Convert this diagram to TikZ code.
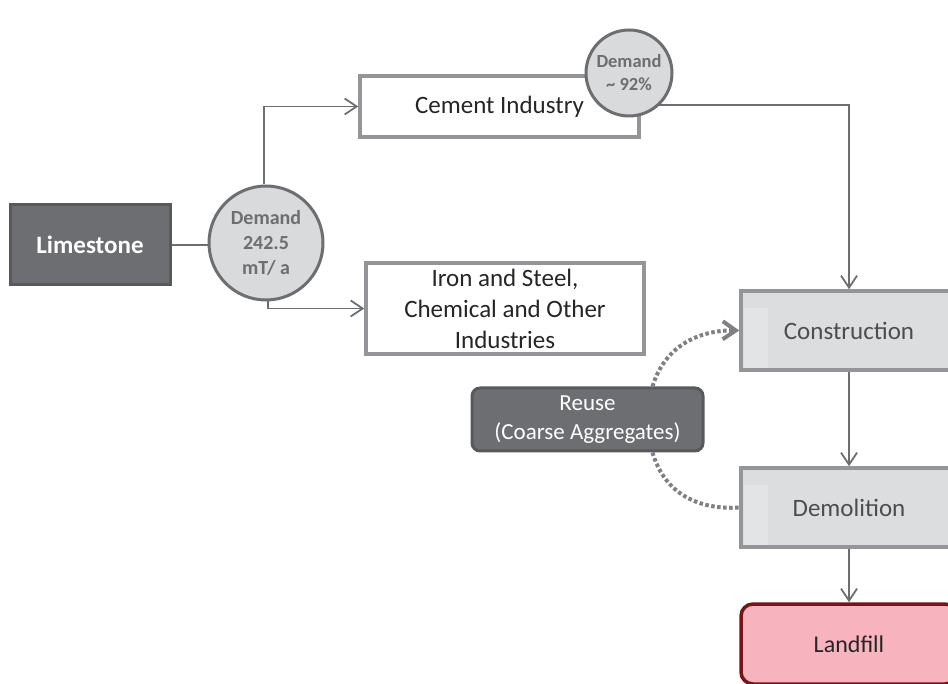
\documentclass[tikz,border=0pt]{standalone}
\usepackage{fontspec}
\setmainfont{Carlito}
\usetikzlibrary{arrows.meta}
\definecolor{dkfill}{HTML}{6D6E71}
\definecolor{dkline}{HTML}{58595B}
\definecolor{circfill}{HTML}{D9DADB}
\definecolor{circline}{HTML}{6D6E71}
\definecolor{boxline}{HTML}{939598}
\definecolor{connline}{HTML}{6D6E71}
\definecolor{lgfill}{HTML}{DCDDDE}
\definecolor{lgstrip}{HTML}{E3E4E5}
\definecolor{pinkfill}{HTML}{F7B3BE}
\definecolor{redline}{HTML}{7A1315}
\definecolor{dotline}{HTML}{7F8083}
\definecolor{txtdark}{HTML}{262626}
\definecolor{txtgray}{HTML}{4D4D4F}
\tikzset{
  darkbox/.style={draw=dkline, fill=dkfill, line width=3pt, text=white, align=center, inner sep=0pt},
  demandcirc/.style={circle, draw=circline, fill=circfill, line width=3pt, text=circline, align=center, inner sep=0pt},
  whitebox/.style={draw=boxline, fill=white, line width=3.5pt, text=txtdark, align=center, inner sep=0pt},
  graybox/.style={draw=boxline, fill=lgfill, line width=3.5pt, text=txtgray, align=center, inner sep=0pt},
  conn/.style={draw=connline, line width=1.8pt, -{Straight Barb[length=12pt,width=16pt,line width=1.8pt]}},
  plainconn/.style={draw=connline, line width=1.8pt},
  dotconn/.style={draw=dotline, line width=4pt, dash pattern=on 3.5pt off 2.5pt},
}
\begin{document}
\begin{tikzpicture}[x=1pt,y=-1pt]
\useasboundingbox (0,0) rectangle (948,684);

% boxes
\node[darkbox, minimum width=160pt, minimum height=80pt, font=\bfseries\fontsize{25}{30}\selectfont] (lime) at (90,245) {Limestone};
\node[whitebox, minimum width=279pt, minimum height=61pt, font=\fontsize{25}{31}\selectfont] (cement) at (499.5,106.5) {Cement Industry};
\node[whitebox, minimum width=278pt, minimum height=91pt, font=\fontsize{25}{31}\selectfont] (iron) at (505,308.5) {Iron and Steel,\\Chemical and Other\\Industries};
\node[graybox, minimum width=216pt, minimum height=79pt] (constr) at (849,330.5) {};
\node[graybox, minimum width=216pt, minimum height=79pt] (demol) at (849,507.5) {};
\fill[lgstrip] (744,308) rectangle (768,368);
\fill[lgstrip] (744,485) rectangle (768,545);
\node[text=txtgray, font=\fontsize{25}{30}\selectfont] (constrt) at (constr.center) {Construction};
\node[text=txtgray, font=\fontsize{25}{30}\selectfont] (demolt) at (demol.center) {Demolition};
\node[draw=redline, fill=pinkfill, line width=3.5pt, rounded corners=12pt, minimum width=216pt, minimum height=80pt, text=txtdark, font=\fontsize{24}{29}\selectfont, inner sep=0pt] (land) at (849,644) {Landfill};
\node[darkbox, rounded corners=8pt, minimum width=231pt, minimum height=63pt, font=\fontsize{23}{29}\selectfont] (reuse) at (587.5,419.5) {Reuse\\(Coarse Aggregates)};

% demand circle
\node[demandcirc, minimum size=114pt, font=\bfseries\fontsize{20}{25}\selectfont] (c1) at (266,243) {Demand\\242.5\\mT/ a};

% connectors
\draw[plainconn] (lime.east) -- (lime.east -| c1.west);
\draw[conn] ([xshift=-2pt]c1.north) |- (cement.west);
\draw[conn] ([xshift=2pt]c1.south) |- (iron.west);
\draw[conn] ([yshift=1.5pt]cement.east) -| (constr.north);
\draw[conn] (constr.south) -- (demol.north);
\draw[conn] (demol.south) -- (land.north);

\node[demandcirc, minimum size=86pt, font=\bfseries\fontsize{18.5}{23}\selectfont] (c2) at (629,73) {Demand\\\textasciitilde{} 92\%};

% reuse loops
\draw[dotconn, -{Straight Barb[length=13pt,width=18pt,line width=4pt]}] ([xshift=65pt]reuse.north) .. controls (665,345) and (700,330) .. (constr.west);
\draw[dotconn] ([xshift=65pt]reuse.south) .. controls (665,495) and (700,510) .. (demol.west);
\end{tikzpicture}
\end{document}
